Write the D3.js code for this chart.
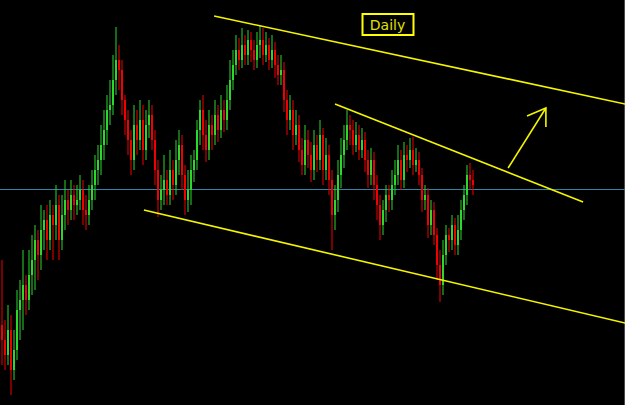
<!DOCTYPE html>
<html>
<head>
<meta charset="utf-8">
<script src="https://cdn.jsdelivr.net/npm/d3@7"></script>
<style>
  html, body { margin: 0; padding: 0; background: #000; }
  svg { display: block; }
</style>
</head>
<body>
<script>
const WIDTH = 625;
const HEIGHT = 405;

// daily closes (price points), open = previous close
var CLOSE = [60, 45, 70, 30, 50, 90, 100, 115, 100, 125, 140, 160, 145, 170, 180, 160, 185, 175, 195, 160,
  185, 200, 190, 205, 195, 200, 210, 190, 185, 200, 215, 230, 240, 255, 270, 290, 295, 320, 340, 330,
  300, 280, 260, 240, 275, 260, 280, 250, 275, 285, 260, 230, 200, 210, 220, 205, 230, 215, 240, 255,
  225, 200, 210, 230, 240, 270, 290, 265, 250, 275, 265, 285, 270, 290, 280, 300, 320, 335, 350, 340,
  355, 345, 360, 350, 340, 355, 360, 345, 355, 340, 350, 335, 325, 330, 300, 280, 290, 265, 275, 250,
  235, 260, 245, 230, 255, 240, 265, 230, 245, 220, 185, 200, 225, 245, 260, 275, 270, 255, 265, 250,
  260, 240, 225, 240, 215, 195, 175, 190, 205, 200, 215, 225, 240, 220, 245, 240, 250, 235, 240, 225,
  200, 205, 175, 190, 165, 135, 115, 145, 165, 160, 175, 155, 170, 190, 205, 225, 220, 215];
var FIRST_OPEN = 75;

var HIGH = [140, 80, 95, 85, 70, 110, 120, 150, 125, 150, 165, 175, 170, 195, 190, 195, 200, 195, 215, 205,
  205, 220, 210, 220, 215, 215, 225, 220, 205, 215, 230, 245, 255, 275, 290, 305, 320, 345, 373, 355,
  340, 305, 290, 270, 295, 290, 300, 295, 290, 300, 295, 270, 240, 225, 245, 230, 250, 240, 260, 270,
  265, 235, 230, 245, 250, 280, 300, 305, 280, 290, 285, 300, 295, 305, 300, 315, 340, 350, 365, 362,
  372, 365, 370, 368, 360, 368, 375, 372, 368, 362, 365, 358, 345, 345, 338, 310, 305, 300, 290, 285,
  262, 275, 270, 258, 270, 265, 280, 272, 262, 255, 230, 215, 240, 262, 275, 290, 285, 280, 278, 275,
  272, 268, 250, 252, 248, 225, 205, 200, 215, 215, 230, 240, 255, 250, 258, 255, 262, 263, 252, 248,
  232, 215, 212, 200, 198, 172, 150, 160, 175, 172, 185, 182, 185, 200, 215, 235, 237, 230];

var LOW = [35, 30, 35, 5, 20, 40, 60, 70, 85, 90, 105, 110, 120, 130, 150, 140, 150, 140, 160, 140,
  150, 170, 175, 180, 180, 185, 190, 175, 170, 175, 190, 200, 215, 225, 240, 255, 275, 285, 305, 310,
  285, 265, 245, 225, 230, 245, 250, 235, 240, 262, 250, 215, 183, 190, 195, 195, 195, 200, 205, 225,
  210, 185, 188, 195, 218, 230, 255, 250, 238, 240, 250, 255, 258, 262, 268, 270, 290, 310, 325, 330,
  332, 335, 335, 338, 330, 332, 342, 335, 338, 330, 332, 322, 315, 315, 288, 265, 270, 250, 255, 238,
  225, 225, 232, 218, 220, 228, 230, 215, 220, 205, 150, 170, 188, 212, 232, 250, 255, 245, 248, 240,
  242, 228, 212, 215, 200, 180, 160, 165, 178, 188, 190, 205, 215, 210, 212, 228, 232, 225, 228, 215,
  188, 190, 162, 165, 155, 120, 98, 105, 135, 148, 150, 145, 145, 160, 180, 195, 210, 205];

// annotation lines, [index, price] pairs
var CHANNEL_TOP = [[70.7, 384], [207.7, 296]];
var CHANNEL_MID = [[111, 296], [193.7, 198]];
var CHANNEL_LOW = [[47.3, 190], [207.7, 77]];
var ARROW = [[168.7, 232], [181.3, 292]];
var ARROW_HEAD = [[175, 284], [181.3, 292], [181.3, 273]];
var LEVEL = 211;
var LABEL = "Daily";
var LABEL_AT = [128.5, 376];

var candles = CLOSE.map((c, i) => ({
  i: i,
  open: i === 0 ? FIRST_OPEN : CLOSE[i - 1],
  close: c,
  high: HIGH[i],
  low: LOW[i]
}));

//DEFINE scales
var xScale = d3.scaleLinear().domain([0, CLOSE.length - 1]).range([2, 473]);
var yScale = d3.scaleLinear().domain([-5, 400]).range([HEIGHT, 0]);

var svg = d3.select("body")
  .append("svg")
  .attr("width", WIDTH)
  .attr("height", HEIGHT);

svg.append("rect")
  .attr("width", WIDTH)
  .attr("height", HEIGHT)
  .attr("fill", "#000");

//right frame edge
svg.append("line")
  .attr("x1", WIDTH - 0.5).attr("x2", WIDTH - 0.5)
  .attr("y1", 0).attr("y2", HEIGHT)
  .attr("stroke", "#4a4a4a");

//horizontal level
svg.append("line")
  .attr("x1", 0).attr("x2", WIDTH)
  .attr("y1", Math.round(yScale(LEVEL)) + 0.5)
  .attr("y2", Math.round(yScale(LEVEL)) + 0.5)
  .attr("stroke", "#2f86a6")
  .attr("stroke-width", 1);

var colour = (d) => d.close >= d.open ? "#2cd82c" : "#f00000";

//wicks
svg.selectAll("rect.wick")
  .data(candles)
  .enter()
  .append("rect")
  .attr("class", "wick")
  .attr("x", (d) => xScale(d.i) - 0.5)
  .attr("y", (d) => yScale(d.high))
  .attr("width", 1)
  .attr("height", (d) => yScale(d.low) - yScale(d.high))
  .attr("fill", colour);

//bodies
svg.selectAll("rect.body")
  .data(candles)
  .enter()
  .append("rect")
  .attr("class", "body")
  .attr("x", (d) => xScale(d.i) - 1)
  .attr("y", (d) => yScale(Math.max(d.open, d.close)))
  .attr("width", 2)
  .attr("height", (d) => Math.max(1, Math.abs(yScale(d.open) - yScale(d.close))))
  .attr("fill", colour);

//trend lines
var line = d3.line().x((d) => xScale(d[0])).y((d) => yScale(d[1]));

[CHANNEL_TOP, CHANNEL_MID, CHANNEL_LOW, ARROW, ARROW_HEAD].forEach((pts) => {
  svg.append("path")
    .attr("d", line(pts))
    .attr("fill", "none")
    .attr("stroke", "#f5f500")
    .attr("stroke-width", 1.6);
});

//label box
var lx = xScale(LABEL_AT[0]);
var ly = yScale(LABEL_AT[1]);
svg.append("rect")
  .attr("x", lx - 25)
  .attr("y", ly - 10)
  .attr("width", 51)
  .attr("height", 21)
  .attr("fill", "#000")
  .attr("stroke", "#ffff00")
  .attr("stroke-width", 2);

svg.append("text")
  .text(LABEL)
  .attr("x", lx)
  .attr("y", ly + 5.5)
  .attr("text-anchor", "middle")
  .attr("font-family", "DejaVu Sans, sans-serif")
  .attr("font-size", "14px")
  .attr("fill", "#e0e000");
</script>
</body>
</html>
